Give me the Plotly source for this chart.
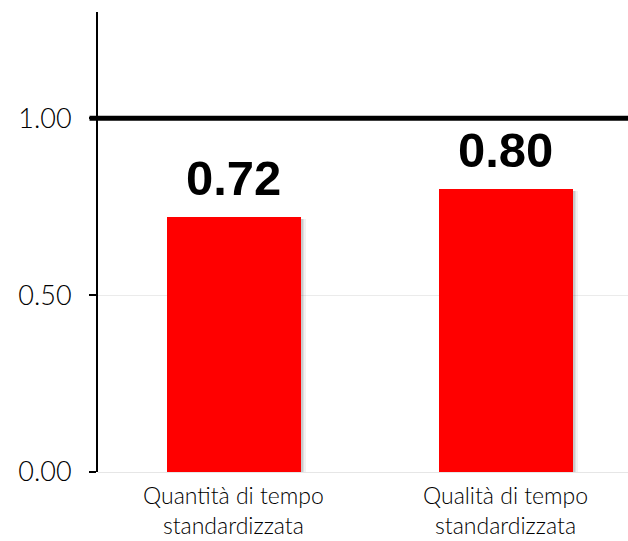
import plotly.graph_objects as go

categories = ["Quantità di tempo<br>standardizzata", "Qualità di tempo<br>standardizzata"]
values = [0.72, 0.80]
value_labels = ["0.72", "0.80"]
reference_level = 1.0
y_ticks = [0.0, 0.5, 1.0]
y_tick_text = ["0.00", "0.50", "1.00"]

positions = list(range(len(categories)))
bar_width = 0.495

fig = go.Figure()

# soft drop shadow behind each bar
for dx, alpha in [(0.016, 0.05), (0.011, 0.07), (0.006, 0.09)]:
    fig.add_trace(go.Bar(
        x=positions, y=[v + 0.002 for v in values], base=-0.008,
        width=bar_width, offset=-bar_width / 2 + dx,
        marker=dict(color=f"rgba(0,0,0,{alpha})", line=dict(width=0)),
        hoverinfo="skip", showlegend=False,
    ))

fig.add_trace(go.Bar(
    x=positions, y=values, width=bar_width, offset=-bar_width / 2,
    marker=dict(color="#ff0000", line=dict(width=0)),
    showlegend=False,
))

# value labels above the bars
for p, v, t in zip(positions, values, value_labels):
    fig.add_annotation(x=p, y=v, text=f"<b>{t}</b>", showarrow=False,
                       yanchor="bottom", yshift=10,
                       font=dict(family="Liberation Sans", size=49, color="black"))

# category labels under the axis, bottom-aligned to the page edge
for p, label in zip(positions, categories):
    fig.add_annotation(x=p, xref="x", y=0, yref="paper", text=label,
                       showarrow=False, yanchor="bottom", yshift=-68,
                       borderpad=0,
                       font=dict(family="Lato", size=23, color="#000", weight=300))

# reference line at 1.00
fig.add_shape(type="line", xref="paper", yref="y",
              x0=-0.016, x1=1, y0=reference_level, y1=reference_level,
              line=dict(color="black", width=5), layer="above")

fig.update_layout(
    width=628, height=541,
    margin=dict(l=98, r=0, t=12, b=69),
    paper_bgcolor="white", plot_bgcolor="white",
    barmode="overlay", bargap=0,
    font=dict(family="Lato", color="#000"),
)
fig.update_xaxes(
    range=[-0.5, 1.449], tickvals=positions, showticklabels=False,
    automargin=False,
    showgrid=False, zeroline=False, showline=False, ticks="",
)
fig.update_yaxes(
    range=[0, 1.3], tickvals=y_ticks, ticktext=y_tick_text,
    tickfont=dict(family="Lato", size=27, color="#000", weight=300),
    ticklabelstandoff=12, automargin=False,
    showgrid=True, gridcolor="#ebebeb", gridwidth=1,
    zeroline=True, zerolinecolor="#e6e6e6", zerolinewidth=1,
    showline=True, linecolor="black", linewidth=2,
    ticks="outside", ticklen=7, tickcolor="black", tickwidth=2,
)

fig.write_html("out.html")
